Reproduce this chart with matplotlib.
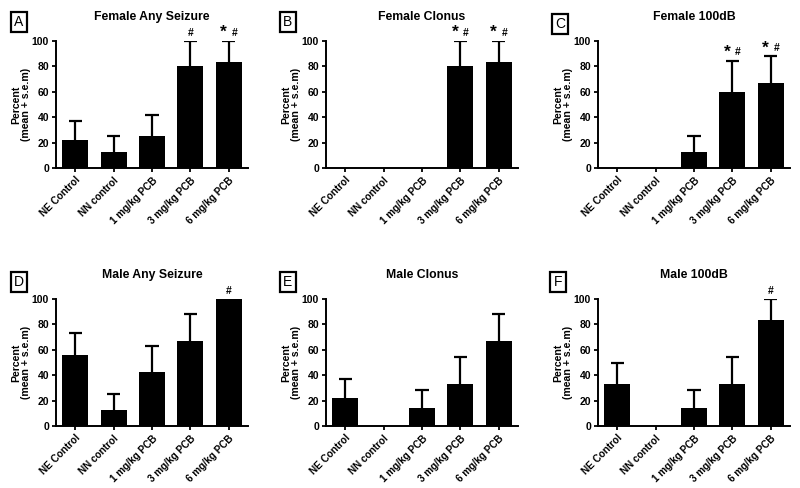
import matplotlib
matplotlib.use("Agg")
import matplotlib.pyplot as plt
import numpy as np

plt.rcParams["font.family"] = ["Liberation Sans", "DejaVu Sans"]
plt.rcParams["font.weight"] = "bold"

# =========================
# data
# =========================
groups = ["NE Control", "NN control", "1 mg/kg PCB", "3 mg/kg PCB", "6 mg/kg PCB"]

titles = ["Female Any Seizure", "Female Clonus", "Female 100dB",
          "Male Any Seizure", "Male Clonus", "Male 100dB"]
letters = ["A", "B", "C", "D", "E", "F"]

f_any_mean = [22.2, 12.5, 25.0, 80.0, 83.3]
f_any_sem = [14.7, 12.5, 16.4, 20.0, 16.7]
f_clonus_mean = [0, 0, 0, 80.0, 83.3]
f_clonus_sem = [0, 0, 0, 20.0, 16.7]
f_100db_mean = [0, 0, 12.5, 60.0, 66.7]
f_100db_sem = [0, 0, 12.5, 24.5, 21.1]
m_any_mean = [55.6, 12.5, 42.9, 66.7, 100.0]
m_any_sem = [17.6, 12.5, 20.2, 21.1, 0]
m_clonus_mean = [22.2, 0, 14.3, 33.3, 66.7]
m_clonus_sem = [14.7, 0, 14.3, 21.1, 21.1]
m_100db_mean = [33.3, 0, 14.3, 33.3, 83.3]
m_100db_sem = [16.7, 0, 14.3, 21.1, 16.7]

means = [f_any_mean, f_clonus_mean, f_100db_mean, m_any_mean, m_clonus_mean, m_100db_mean]
sems = [f_any_sem, f_clonus_sem, f_100db_sem, m_any_sem, m_clonus_sem, m_100db_sem]

# significance marks per bar
marks = [
    ["", "", "", "#", "* #"],
    ["", "", "", "* #", "* #"],
    ["", "", "", "* #", "* #"],
    ["", "", "", "", "#"],
    ["", "", "", "", ""],
    ["", "", "", "", "#"],
]

# =========================
# layout
# =========================
W, H = 800, 488
fig = plt.figure(figsize=(8, 4.88), dpi=100)

lefts = [56, 326, 598]
tops = [41, 299]
aw, ah = 192, 127
letter_pos = [(19, 22), (288, 22), (560, 24), (19, 282), (288, 282), (558, 282)]

x = np.arange(len(groups))

for i in range(6):
    r, c = divmod(i, 3)
    ax = fig.add_axes([lefts[c] / W, 1 - (tops[r] + ah) / H, aw / W, ah / H])
    m = np.array(means[i])
    s = np.array(sems[i])
    ax.bar(x, m, width=0.68, color="black", zorder=2)
    # upper error bars only
    has = s > 0
    ax.vlines(x[has], m[has], m[has] + s[has], color="black", lw=1.6, zorder=1)
    ax.hlines(m[has] + s[has], x[has] - 0.17, x[has] + 0.17, color="black", lw=1.6, zorder=1)

    for j, mk in enumerate(marks[i]):
        if not mk:
            continue
        top = m[j] + s[j]
        if "*" in mk:
            ax.annotate("*", (j - 0.14, top), xytext=(0, 3), textcoords="offset points",
                        ha="center", va="baseline", fontsize=12.5, annotation_clip=False)
            ax.annotate("#", (j + 0.15, top), xytext=(0, 2.5), textcoords="offset points",
                        ha="center", va="bottom", fontsize=7.5, annotation_clip=False)
        else:
            ax.annotate(mk, (j, top), xytext=(0, 2.5), textcoords="offset points",
                        ha="center", va="bottom", fontsize=7.5, annotation_clip=False)

    ax.set_xlim(-0.5, 4.5)
    ax.set_ylim(0, 100)
    ax.set_yticks([0, 20, 40, 60, 80, 100])
    ax.set_xticks(x)
    ax.set_xticklabels(groups, rotation=45, ha="right", rotation_mode="anchor",
                       fontsize=7.2, fontweight="bold")
    ax.tick_params(axis="y", labelsize=7.5, width=1.3, length=3, pad=2)
    ax.tick_params(axis="x", width=1.3, length=3, pad=2)
    for sp in ["top", "right"]:
        ax.spines[sp].set_visible(False)
    for sp in ["left", "bottom"]:
        ax.spines[sp].set_linewidth(1.4)
    ax.set_ylabel("Percent\n(mean + s.e.m)", fontsize=7.6, fontweight="bold", labelpad=0.5,
                  linespacing=1.0)
    ax.set_title(titles[i], fontsize=8.8, fontweight="bold", pad=15)

    lx, ly = letter_pos[i]
    fig.text(lx / W, 1 - ly / H, letters[i], ha="center", va="center",
             fontsize=10, fontweight="normal",
             bbox=dict(boxstyle="square,pad=0.25", fc="white", ec="black", lw=1.6))

fig.savefig("out.png", dpi=100)
